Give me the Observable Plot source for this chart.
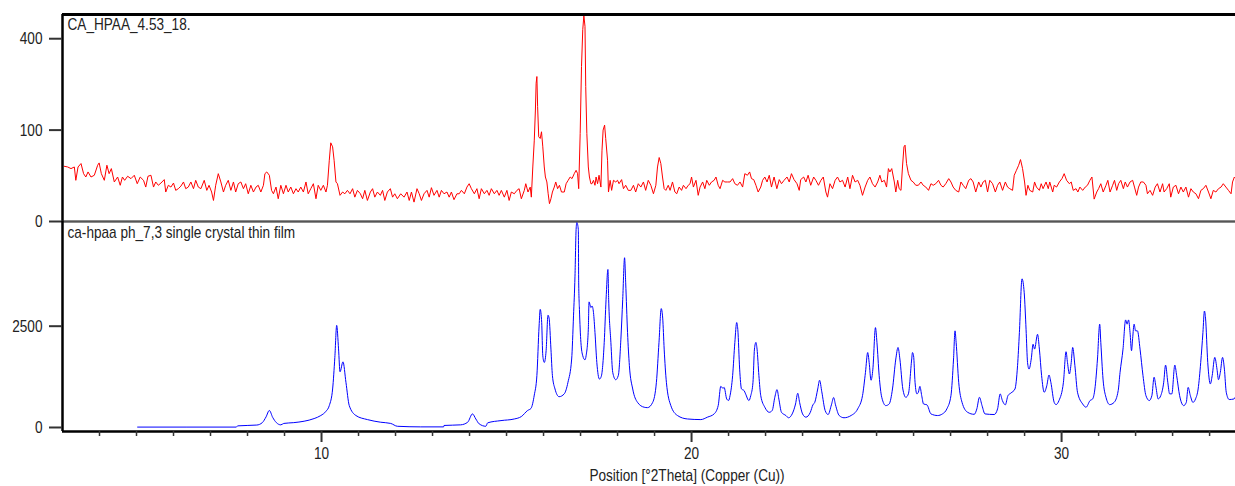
<!DOCTYPE html>
<html><head><meta charset="utf-8">
<script src="https://cdn.jsdelivr.net/npm/d3@7"></script>
<script src="https://cdn.jsdelivr.net/npm/@observablehq/plot@0.6"></script>
<style>
html,body{margin:0;padding:0;background:#fff;}
#chart{position:relative;width:1235px;height:486px;overflow:hidden;font-family:"Liberation Sans",Arial,sans-serif;}
#chart svg{position:absolute;left:0;overflow:visible;background:transparent;}
</style></head><body><div id="chart"></div>
<script>
const xDomain = [3, 34.7];
const xMajorTicks = [10, 20, 30];
const xMinorTicks = [4,5,6,7,8,9,11,12,13,14,15,16,17,18,19,21,22,23,24,25,26,27,28,29,31,32,33,34];
const topTicks = [0, 100, 400];
const bottomTicks = [0, 2500];
const topDomain = [0, 513];
const bottomDomain = [-99, 5084];
const topTitle = "CA_HPAA_4.53_18.";
const bottomTitle = "ca-hpaa ph_7,3 single crystal thin film";
const xLabel = "Position [°2Theta] (Copper (Cu))";

// measured scan: [°2Theta, counts]
const redScan = [
[3.05,36.5],[3.14,35.6],[3.23,33.5],[3.32,35.6],[3.36,20.3],[3.42,35.6],[3.50,40.2],[3.57,27.4],[3.63,23.7],[3.69,29.4],[3.77,23.7],[3.86,25.6],[3.95,37.9],[3.99,41.1],[4.05,27.4],[4.13,20.3],[4.20,37.9],[4.26,27.4],[4.32,33.5],[4.40,18.7],[4.49,23.7],[4.56,15.7],[4.62,23.7],[4.68,20.3],[4.76,24.5],[4.85,22.0],[4.94,25.6],[5.02,17.1],[5.10,23.7],[5.19,20.3],[5.25,14.2],[5.31,24.5],[5.39,25.6],[5.46,14.2],[5.52,18.7],[5.59,15.7],[5.66,17.7],[5.75,21.0],[5.79,10.4],[5.86,15.7],[5.93,14.2],[6.00,17.7],[6.06,11.6],[6.13,12.9],[6.20,15.0],[6.27,18.7],[6.33,12.9],[6.40,14.2],[6.47,18.7],[6.54,12.9],[6.60,20.3],[6.67,14.2],[6.74,12.9],[6.83,20.3],[6.90,11.6],[6.96,15.7],[7.03,10.4],[7.08,5.3],[7.14,15.7],[7.21,27.4],[7.28,18.7],[7.35,10.4],[7.41,15.7],[7.48,20.3],[7.55,11.6],[7.62,18.7],[7.68,10.4],[7.75,17.1],[7.82,18.7],[7.89,12.9],[7.95,17.1],[8.02,9.2],[8.09,15.7],[8.16,10.4],[8.23,14.2],[8.29,15.7],[8.36,10.4],[8.43,15.7],[8.47,27.4],[8.52,29.4],[8.59,25.6],[8.65,11.6],[8.70,9.2],[8.77,14.2],[8.83,6.2],[8.90,15.7],[8.97,9.2],[9.04,15.7],[9.10,10.4],[9.17,14.2],[9.24,9.2],[9.31,12.9],[9.37,10.4],[9.44,14.2],[9.51,10.4],[9.58,18.7],[9.64,9.2],[9.71,12.9],[9.78,17.1],[9.85,6.2],[9.91,15.7],[9.98,11.6],[10.05,15.7],[10.12,10.4],[10.16,15.7],[10.21,44.9],[10.25,74.1],[10.30,66.7],[10.34,44.9],[10.39,18.7],[10.43,17.1],[10.50,8.2],[10.57,10.4],[10.63,9.2],[10.70,11.6],[10.77,9.2],[10.84,12.9],[10.90,7.1],[10.97,11.6],[11.05,9.2],[11.11,6.2],[11.17,11.6],[11.24,5.3],[11.32,10.4],[11.38,12.9],[11.44,7.1],[11.51,10.4],[11.59,8.2],[11.65,11.6],[11.71,5.3],[11.78,10.4],[11.86,12.9],[11.92,7.1],[11.98,9.2],[12.05,6.2],
[12.14,9.2],[12.23,7.1],[12.31,10.4],[12.37,5.3],[12.43,10.4],[12.50,4.5],[12.58,12.9],[12.64,9.2],[12.70,5.3],[12.77,9.2],[12.85,11.6],[12.91,7.1],[12.97,13.7],[13.04,8.2],[13.12,11.6],[13.18,7.1],[13.24,11.6],[13.31,9.2],[13.39,10.4],[13.45,7.1],[13.51,10.4],[13.58,5.7],[13.66,9.2],[13.72,9.2],[13.78,11.6],[13.86,9.2],[13.93,14.2],[13.99,17.1],[14.05,12.9],[14.13,9.2],[14.20,12.9],[14.26,6.2],[14.32,12.9],[14.40,9.2],[14.47,11.6],[14.53,8.2],[14.59,12.9],[14.67,9.2],[14.74,11.6],[14.80,8.2],[14.86,11.6],[14.94,7.1],[15.01,11.6],[15.07,5.3],[15.13,10.4],[15.21,9.2],[15.28,11.6],[15.34,12.9],[15.40,6.2],[15.48,11.6],[15.52,17.1],[15.58,10.4],[15.64,14.2],[15.67,7.1],[15.71,35.6],[15.75,79.2],[15.78,148.8],[15.80,228.9],[15.82,251.6],[15.84,157.9],[15.87,85.9],[15.91,82.5],[15.945,96.4],[15.98,66.7],[16.02,35.6],[16.05,23.7],[16.09,18.7],[16.125,9.2],[16.16,3.8],[16.20,6.2],[16.24,10.4],[16.29,14.2],[16.33,18.7],[16.38,12.9],[16.43,15.7],[16.485,10.4],[16.56,10.4],[16.61,17.1],[16.665,20.3],[16.72,23.7],[16.77,22.0],[16.83,27.4],[16.88,31.4],[16.92,27.4],[16.95,12.9],[16.99,92.8],[17.026,287.6],[17.06,440.5],[17.09,507.5],[17.12,456],[17.14,217.9],[17.17,92.8],[17.21,35.6],[17.24,23.7],[17.28,17.1],[17.31,17.1],[17.35,20.3],[17.39,15.7],[17.42,23.7],[17.46,17.1],[17.50,25.6],[17.55,14.2],[17.58,60.9],[17.61,100],[17.65,111.3],[17.68,82.5],[17.73,44.9],[17.755,10.4],[17.80,20.3],[17.84,11.6],[17.89,20.3],[17.95,18.7],[18.00,20.3],[18.04,17.1],[18.11,21.0],[18.16,12.9],[18.22,15.7],[18.29,11.6],[18.36,11.6],[18.43,15.7],[18.49,10.4],[18.56,17.1],[18.63,14.2],[18.70,18.7],[18.76,11.6],[18.83,20.3],[18.90,15.7],[18.97,9.2],[19.035,15.7],[19.08,35.6],[19.125,49.0],[19.17,40.2],[19.215,23.7],[19.26,12.9],[19.305,11.6],[19.37,15.7],[19.42,11.6],[19.485,18.7],[19.55,10.4],[19.60,9.2],[19.665,14.2],[19.73,11.6],[19.78,15.7],[19.85,12.9],[19.91,15.7],[19.96,17.1],[20.00,23.7],[20.05,14.2],[20.12,20.3],[20.18,8.2],[20.23,14.2],[20.30,18.7],[20.36,12.9],[20.41,20.3],[20.48,15.7],[20.54,18.7],[20.61,20.3],[20.66,23.7],[20.72,15.7],[20.77,12.9],[20.84,20.3],[20.90,18.7],[20.97,18.7],[21.04,18.7],[21.11,22.0],[21.17,17.1],[21.24,15.7],[21.31,18.7],[21.38,14.2],[21.44,27.4],[21.51,25.6],[21.57,29.4],[21.62,22.0],[21.68,21.0],[21.74,15.7],[21.80,10.4],[21.87,14.2],[21.92,20.3],[21.98,23.7],[22.04,18.7],[22.10,25.6],[22.16,14.2],[22.23,23.7],[22.305,12.9],[22.37,21.0],[22.43,17.1],[22.50,20.3],[22.58,23.7],[22.64,18.7],[22.70,27.4],[22.77,21.0],[22.85,17.1],[22.91,11.6],[22.95,21.0],[23.03,23.7],[23.09,18.7],[23.15,25.6],[23.22,15.7],[23.30,23.7],
[23.36,20.3],[23.43,15.7],[23.495,20.3],[23.56,23.7],[23.63,10.4],[23.675,7.1],[23.74,17.1],[23.81,12.9],[23.88,20.3],[23.945,23.7],[24.01,18.7],[24.08,20.3],[24.15,14.2],[24.22,23.7],[24.28,12.9],[24.35,25.6],[24.42,18.7],[24.49,20.3],[24.55,15.7],[24.62,8.2],[24.69,14.2],[24.76,20.3],[24.82,23.7],[24.89,17.1],[24.96,14.2],[25.03,18.7],[25.09,25.6],[25.14,18.7],[25.21,20.3],[25.27,14.2],[25.32,33.5],[25.36,29.4],[25.41,33.5],[25.48,18.7],[25.52,10.4],[25.57,20.3],[25.61,12.9],[25.66,11.6],[25.70,35.6],[25.74,66.7],[25.77,69.8],[25.81,40.2],[25.86,27.4],[25.93,20.3],[25.99,18.7],[26.06,15.7],[26.13,15.7],[26.20,18.7],[26.26,15.7],[26.33,14.2],[26.405,11.6],[26.47,17.1],[26.53,15.7],[26.60,17.1],[26.675,20.3],[26.74,15.7],[26.80,14.2],[26.87,17.1],[26.95,22.0],[27.01,18.7],[27.07,14.2],[27.14,11.6],[27.22,10.4],[27.28,18.7],[27.34,15.7],[27.41,12.9],[27.49,20.3],[27.55,22.0],[27.61,18.7],[27.68,10.4],[27.76,18.7],[27.82,14.2],[27.88,18.7],[27.94,20.3],[28.00,10.4],[28.06,20.3],[28.135,17.1],[28.21,10.4],[28.27,15.7],[28.33,18.7],[28.405,11.6],[28.48,18.7],[28.54,14.2],[28.60,12.9],[28.675,11.6],[28.72,25.6],[28.78,31.4],[28.84,37.9],[28.89,45.9],[28.945,33.5],[29.00,18.7],[29.04,8.2],[29.09,15.7],[29.14,11.6],[29.22,10.4],[29.27,18.7],[29.32,14.2],[29.40,11.6],[29.45,17.1],[29.50,12.9],[29.58,18.7],[29.64,12.9],[29.68,18.7],[29.76,10.4],[29.80,15.7],[29.865,14.2],[29.94,18.7],[30.01,22.0],[30.07,27.4],[30.135,20.3],[30.21,17.1],[30.26,18.7],[30.315,11.6],[30.39,12.9],[30.44,10.4],[30.495,14.2],[30.57,11.6],[30.64,14.2],[30.70,15.7],[30.765,20.3],[30.82,23.7],[30.88,6.0],[30.95,10.4],[31.00,12.9],[31.06,17.1],[31.125,10.4],[31.20,15.7],[31.25,20.3],[31.31,10.4],[31.38,15.7],[31.43,20.3],[31.49,11.6],[31.54,17.1],[31.60,20.3],[31.67,12.9],[31.72,18.7],[31.78,14.2],[31.85,18.7],[31.92,20.3],[31.97,14.2],[32.03,8.2],[32.08,14.2],[32.14,18.7],[32.21,18.7],[32.28,15.7],[32.32,9.2],[32.39,11.6],[32.46,8.2],[32.53,14.2],[32.59,17.1],[32.66,10.4],[32.73,17.1],[32.77,10.4],[32.84,12.9],[32.91,17.1],[32.95,7.1],[33.02,14.2],[33.09,15.7],[33.16,9.2],[33.225,14.2],[33.29,10.4],[33.36,14.2],[33.43,7.1],[33.495,12.9],[33.56,10.4],[33.63,9.2],[33.70,6.2],[33.765,11.6],[33.83,12.9],[33.90,15.7],[33.97,10.4],[34.035,6.2],[34.10,11.6],[34.17,10.4],[34.24,12.9],[34.31,14.2],[34.37,17.1],[34.44,14.2],[34.51,11.6],[34.58,9.2],[34.62,18.7],[34.67,23.7],[34.71,22.0]
];

// reference pattern: [°2Theta, counts]
const blueScan = [
[5.03,10],[7.70,10],[7.73,40],[8.25,60],[8.40,120],[8.50,260],[8.59,420],[8.68,250],[8.78,120],[8.90,65],[8.98,100],[9.25,120],[9.53,155],[9.80,220],[9.98,295],[10.12,400],[10.21,540],[10.30,950],[10.36,1730],[10.41,2520],[10.46,1940],[10.50,1375],[10.58,1620],[10.66,1115],[10.75,540],[10.93,295],[11.24,195],[11.60,130],[11.87,100],[12.05,30],[12.68,15],[13.30,15],[13.31,50],[13.76,65],[13.95,130],[14.08,335],[14.17,210],[14.26,90],[14.44,30],[14.49,115],[14.85,170],[15.21,210],[15.40,270],[15.57,420],[15.66,470],[15.75,800],[15.82,1280],[15.88,2505],[15.91,2915],[15.95,2590],[15.98,1770],[16.02,1605],[16.07,1900],[16.12,2770],[16.15,2700],[16.20,1935],[16.24,1280],[16.31,950],[16.42,760],[16.56,830],[16.66,1115],[16.76,1690],[16.81,2755],[16.85,3735],[16.88,4885],[16.90,5060],[16.94,4885],[16.95,3570],[16.97,2915],[17.01,2100],[17.06,1770],[17.12,1670],[17.15,1770],[17.21,2425],[17.23,3100],[17.28,2960],[17.31,3000],[17.35,2835],[17.39,2345],[17.44,1605],[17.51,1195],[17.56,1260],[17.64,2100],[17.69,3165],[17.74,3900],[17.76,3165],[17.82,2100],[17.87,1360],[17.95,1180],[18.02,1280],[18.09,2180],[18.14,3165],[18.19,4190],[18.22,3570],[18.27,2345],[18.32,1525],[18.41,950],[18.54,620],[18.72,500],[18.81,490],[18.95,620],[19.05,1115],[19.12,2100],[19.18,2935],[19.22,2700],[19.26,1935],[19.32,1115],[19.44,540],[19.62,295],[19.89,210],[20.25,195],[20.43,255],[20.61,335],[20.72,540],[20.79,1015],[20.85,965],[20.88,990],[20.95,705],[21.00,665],[21.04,785],[21.11,1280],[21.17,2100],[21.22,2590],[21.25,2420],[21.30,1440],[21.35,950],[21.42,910],[21.46,830],[21.55,665],[21.60,785],[21.66,1115],[21.70,1935],[21.74,2100],[21.77,1935],[21.82,1280],[21.87,785],[21.98,500],[22.10,375],[22.18,420],[22.25,745],[22.31,935],[22.36,700],[22.43,375],[22.55,295],[22.62,240],[22.72,335],[22.81,580],[22.87,845],[22.92,620],[23.00,335],[23.09,255],[23.21,375],[23.28,560],[23.33,620],[23.41,950],[23.46,1165],[23.52,880],[23.61,420],[23.69,320],[23.78,560],[23.84,740],[23.89,560],[23.99,295],[24.12,240],[24.31,295],[24.49,460],[24.62,785],[24.70,1360],[24.76,1850],[24.80,1605],[24.85,1165],[24.90,1440],[24.97,2465],[25.01,2100],[25.07,1280],[25.14,745],[25.25,540],[25.34,580],[25.43,950],[25.52,1690],[25.58,1975],[25.63,1690],[25.71,950],[25.79,745],[25.86,830],[25.95,1690],[25.97,1850],[26.00,1770],[26.04,1115],[26.09,830],[26.13,870],[26.17,1015],[26.22,785],[26.27,580],[26.36,560],[26.47,335],[26.65,295],[26.78,335],[26.90,460],[27.01,785],[27.08,1690],[27.12,2385],[27.15,2100],[27.22,1115],[27.31,620],[27.46,375],[27.64,325],[27.71,460],[27.78,745],[27.85,540],[27.93,335],[28.18,320],[28.27,460],[28.34,830],[28.40,665],[28.48,560],[28.55,785],[28.63,850],[28.74,950],[28.81,1525],[28.86,2345],[28.93,3670],[28.99,3325],[29.04,2425],[29.08,1605],[29.12,1440],[29.18,1690],[29.23,2055],[29.27,1935],[29.35,2300],[29.40,1935],[29.46,1280],[29.53,870],[29.60,1030],[29.66,1295],[29.71,1115],[29.80,620],[29.85,565],[29.93,665],[30.05,1115],[30.12,1870],[30.16,1600],[30.21,1320],[30.26,1600],[30.30,1975],[30.36,1525],[30.43,870],[30.57,580],[30.66,500],[30.77,665],[30.84,705],[30.90,950],[30.97,1690],[31.03,2550],[31.06,2100],[31.12,1195],[31.20,745],[31.30,565],[31.42,620],[31.53,910],[31.58,1360],[31.66,1935],[31.73,2655],[31.77,2550],[31.81,2655],[31.85,2345],[31.89,1895],[31.92,2200],[31.96,2550],[32.00,2385],[32.05,2385],[32.12,1935],[32.20,1280],[32.28,785],[32.37,665],[32.44,785],[32.50,1240],[32.55,1000],[32.61,705],[32.68,785],[32.76,1115],[32.81,1540],[32.87,1115],[32.92,830],[32.98,830],[33.06,1540],[33.11,1280],[33.19,785],[33.30,540],[33.37,620],[33.42,990],[33.48,785],[33.55,620],[33.62,705],[33.69,950],[33.76,1605],[33.82,2345],[33.86,2875],[33.89,2700],[33.95,1605],[34.02,1075],[34.07,1280],[34.14,1730],[34.20,1440],[34.24,1180],[34.29,1360],[34.35,1730],[34.40,1440],[34.45,870],[34.53,690],[34.66,705],[34.71,785]
];

const red = redScan.map(([x, y]) => ({x, y}));
const blue = blueScan.map(([x, y]) => ({x, y}));

const FONT = '"Liberation Sans", Arial, sans-serif';
const common = {
  width: 1235, marginLeft: 62, marginRight: 0,
  style: {background: "transparent", overflow: "visible", fontFamily: FONT, fontSize: "17px", color: "#222"}
};

const topPlot = Plot.plot({
  ...common, height: 221, marginTop: 14, marginBottom: 0,
  x: {domain: xDomain, axis: null},
  y: {type: "sqrt", domain: topDomain, axis: null},
  marks: [
    Plot.line(red, {x: "x", y: "y", stroke: "#ff0000", strokeWidth: 1}),
    Plot.ruleY([topDomain[0]], {stroke: "#3a3a3a", strokeWidth: 2}),
    Plot.ruleY([topDomain[1]], {stroke: "#000", strokeWidth: 3}),
    Plot.ruleX([xDomain[0]], {stroke: "#000", strokeWidth: 2.5}),
    Plot.axisY({ticks: topTicks, tickFormat: d => String(d), tickSize: 13, tickPadding: 7, stroke: "#333", strokeWidth: 2, fill: "#222", label: null, fontSize: 17}),
    Plot.text([topTitle], {text: d => d, frameAnchor: "top-left", dx: 5, dy: 3, lineAnchor: "top", textAnchor: "start", fill: "#222", fontSize: 17})
  ]
});

const bottomPlot = Plot.plot({
  ...common, height: 265, marginTop: 0, marginBottom: 55,
  x: {domain: xDomain, axis: null},
  y: {domain: bottomDomain, axis: null},
  marks: [
    Plot.line(blue, {x: "x", y: "y", stroke: "#0000ff", strokeWidth: 1, curve: "monotone-x"}),
    Plot.ruleY([bottomDomain[1]], {stroke: "#555", strokeWidth: 1.5}),
    Plot.ruleY([bottomDomain[0]], {stroke: "#000", strokeWidth: 2.7}),
    Plot.ruleX([xDomain[0]], {stroke: "#000", strokeWidth: 2.5}),
    Plot.axisY({ticks: bottomTicks, tickFormat: d => String(d), tickSize: 13, tickPadding: 7, stroke: "#333", strokeWidth: 2, fill: "#222", label: null, fontSize: 17}),
    Plot.axisX({ticks: xMinorTicks, tickSize: 5, tickFormat: () => "", stroke: "#333", strokeWidth: 1.5, label: null}),
    Plot.axisX({ticks: xMajorTicks, tickFormat: d => String(d), tickSize: 11, tickPadding: 4, stroke: "#333", strokeWidth: 2, fill: "#222", label: null, fontSize: 17}),
    Plot.text([bottomTitle], {text: d => d, frameAnchor: "top-left", dx: 5, dy: 4, lineAnchor: "top", textAnchor: "start", fill: "#222", fontSize: 17})
  ]
});

const chart = document.getElementById("chart");
topPlot.style.top = "0px";
bottomPlot.style.top = "221px";
chart.appendChild(topPlot);
chart.appendChild(bottomPlot);

d3.select(bottomPlot).append("text")
  .attr("x", 687).attr("y", 260)
  .attr("text-anchor", "middle")
  .attr("fill", "#222")
  .style("font-family", FONT).style("font-size", "17px")
  .text(xLabel);

// narrow glyph rendering like the original
chart.querySelectorAll("svg text").forEach(t => {
  const w = t.getComputedTextLength();
  if (w > 0) {
    t.setAttribute("textLength", (w * 0.8).toFixed(2));
    t.setAttribute("lengthAdjust", "spacingAndGlyphs");
  }
});
</script></body></html>
